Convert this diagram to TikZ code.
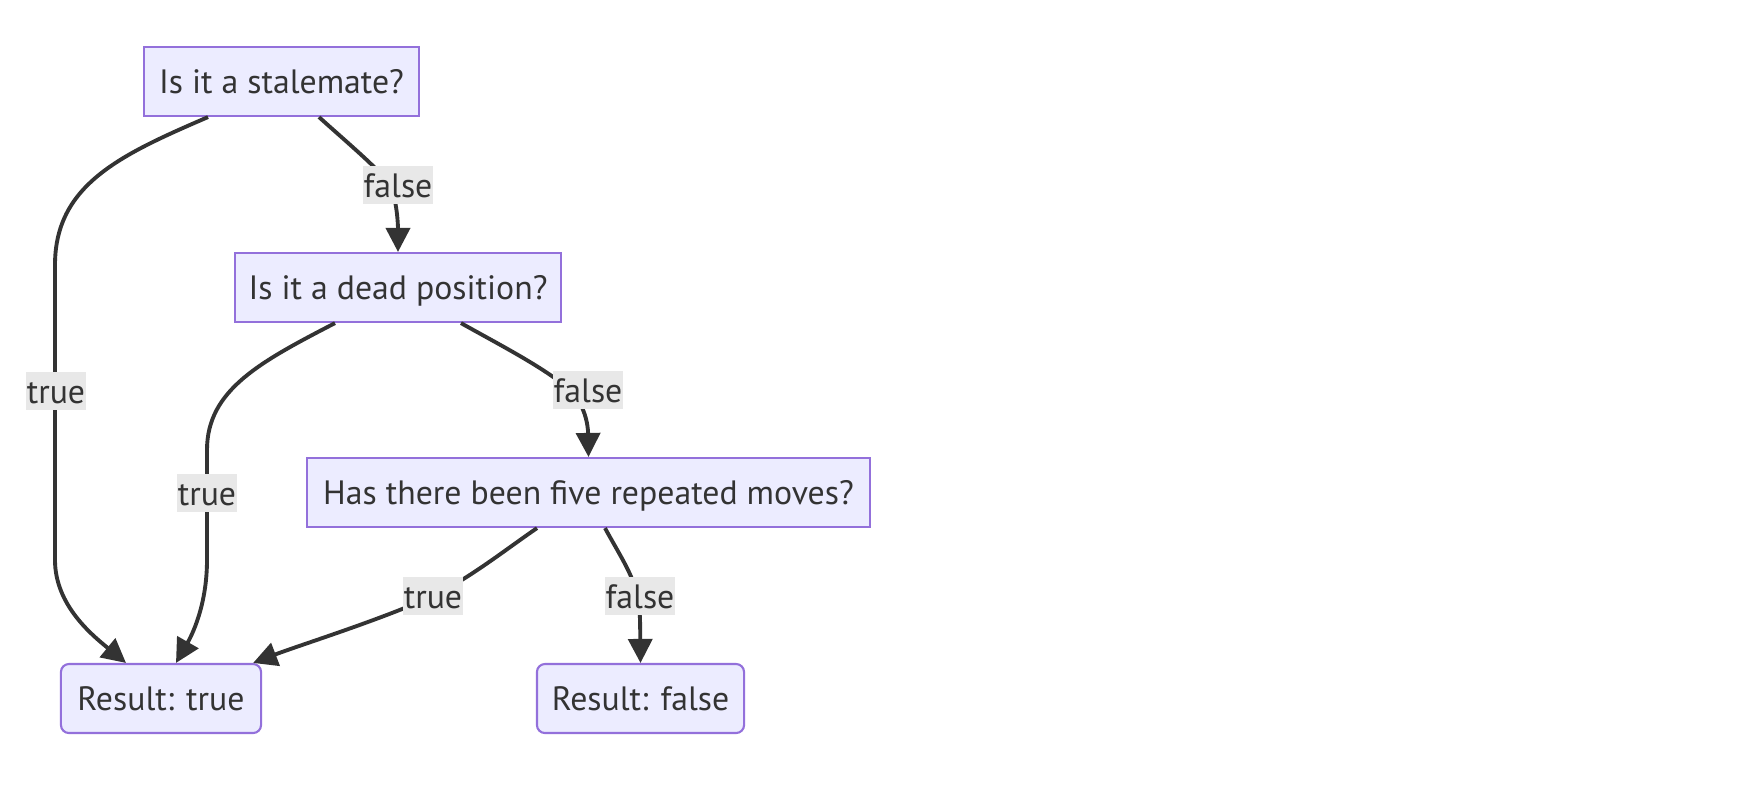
\documentclass[tikz,border=0pt]{standalone}
\usepackage{fontspec}
\setmainfont{PT Sans}
\usepackage{tikz}
\usetikzlibrary{calc}
\usetikzlibrary{arrows.meta}
\definecolor{boxfill}{HTML}{ECECFF}
\definecolor{boxline}{HTML}{9370DB}
\definecolor{ink}{HTML}{333333}
\definecolor{labelbg}{HTML}{E8E8E8}
\tikzstyle{question}=[draw=boxline,fill=boxfill,line width=0.6pt,text=ink,minimum height=0.69cm,inner sep=0pt,text height=0.24cm,text depth=0pt,font=\fontsize{9.6pt}{11pt}\selectfont]
\tikzstyle{result}=[question,rounded corners=0.08cm]
\tikzstyle{branch}=[line width=1.1pt,draw=ink,-{Triangle[length=0.24cm,width=0.24cm]}]
\tikzstyle{cond}=[fill=labelbg,text=ink,inner xsep=0.01cm,inner ysep=0pt,minimum height=0.38cm,text height=0.24cm,text depth=0pt,font=\fontsize{9.6pt}{11pt}\selectfont]

\begin{document}
\begin{tikzpicture}[x=0.01cm,y=-0.01cm]
\useasboundingbox (0,0) rectangle (1758,790);
\node[question,minimum width=2.75cm] (ST) at (281.5,81.5) {Is it a stalemate?};
\node[question,minimum width=3.26cm] (DP) at (398,287.5) {Is it a dead position?};
\node[question,minimum width=5.63cm] (RM) at (588.5,492.5) {Has there been five repeated moves?};
\node[result,minimum width=2.00cm] (RT) at (161,698.5) {Result: true};
\node[result,minimum width=2.07cm] (RF) at (640.5,698.5) {Result: false};
% stalemate
\draw[branch] ($(ST.south)+(-73.5,0)$) .. controls (120,155) and (55,185) .. (55,265) -- (55,560)
	node[cond] (STT) at (56,391) {true}
	.. controls (55,605) and (92,635) .. ($(RT.north)+(-35,0)$);
\draw[branch] ($(ST.south)+(37.5,0)$) .. controls (350,145) and (380,170) .. (390,185)
	node[cond] (STF) at (398,185) {false}
	.. controls (397,200) and (398,225) .. (DP.north);
% dead position
\draw[branch] ($(DP.south)+(-63,0)$) .. controls (260,362) and (207,390) .. (207,450) -- (207,560)
	node[cond] (DPT) at (207,493) {true}
	.. controls (207,605) and (192,635) .. ($(RT.north)+(15,0)$);
\draw[branch] ($(DP.south)+(63,0)$) .. controls (500,345) and (545,368) .. (570,390)
	node[cond] (DPF) at (588,390) {false}
	.. controls (585,405) and (588,425) .. (RM.north);
% repeated moves
\draw[branch] ($(RM.south)+(-51.5,0)$) .. controls (505,550) and (470,578) .. (433,596)
	node[cond] (RMT) at (433,596) {true}
	.. controls (380,620) and (300,645) .. ($(RT.north east)+(-9,0)$);
\draw[branch] ($(RM.south)+(16.5,0)$) .. controls (618,552) and (630,570) .. (636,590)
	node[cond] (RMF) at (640,596) {false}
	.. controls (640,610) .. (RF.north);
\end{tikzpicture}
\end{document}
